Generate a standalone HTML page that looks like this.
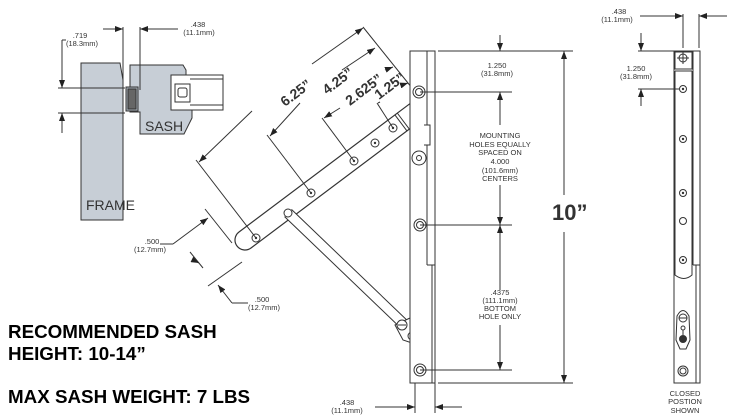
<!DOCTYPE html>
<html><head><meta charset="utf-8"><style>
html,body{margin:0;padding:0;background:#fff;width:750px;height:419px;overflow:hidden}
svg{display:block}
text{font-family:"Liberation Sans",Arial,sans-serif;fill:#333}
</style></head><body>
<svg width="750" height="419" viewBox="0 0 750 419" xmlns="http://www.w3.org/2000/svg">
<defs>
<marker id="a" markerWidth="8" markerHeight="6" refX="8" refY="3" orient="auto" markerUnits="userSpaceOnUse"><path d="M0,0 L8,3 L0,6z" fill="#222"/></marker>
</defs>
<g stroke="#333" stroke-width="1" fill="none">
<!-- cross section -->
<path d="M81,63 L120,63 L123,80 L123,220 L81,220 Z" fill="#c7ced6"/>
<path d="M130,65 L183,65 L186,70 L186,106 L192,106 L192,118 L184,134 L140,134 L140,112 L130,112 Z" fill="#c7ced6"/>
<rect x="126" y="87" width="12" height="24" fill="#aab2ba"/>
<rect x="128" y="89" width="8" height="20" fill="#666"/>
<rect x="171" y="75" width="52" height="35" fill="#fff"/>
<rect x="175" y="84" width="15" height="18" fill="#fff"/>
<rect x="178" y="88" width="9" height="9" rx="2"/>
<line x1="190" y1="79" x2="223" y2="79"/><line x1="190" y1="105" x2="223" y2="105"/>
<!-- dims left -->
<line x1="123" y1="27" x2="123" y2="88"/><line x1="140" y1="27" x2="140" y2="90"/>
<line x1="103" y1="29" x2="123" y2="29" marker-end="url(#a)"/>
<line x1="178" y1="29" x2="140" y2="29" marker-end="url(#a)"/>
<line x1="58" y1="88" x2="125" y2="88"/><line x1="58" y1="113" x2="125" y2="113"/>
<line x1="62" y1="40" x2="62" y2="88" marker-end="url(#a)"/>
<line x1="66" y1="40" x2="62" y2="40"/>
<line x1="62" y1="133" x2="62" y2="113" marker-end="url(#a)"/>
<!-- arm -->
<g transform="translate(245,240) rotate(-36.9)">
<path d="M0,-10 L216,-10 A10,10 0 0 1 216,10 L0,10 A10,10 0 0 1 0,-10Z" fill="#fff" stroke-width="1.2"/>
<line x1="195" y1="-10" x2="195" y2="10"/><line x1="198" y1="-10" x2="198" y2="10"/>
</g>
<!-- support arm -->
<g transform="translate(288,213) rotate(43.8)">
<path d="M0,-5 L175,-5 L175,5 L0,5" fill="#fff"/>
</g>
<path d="M395,325 L410,318 L424,332 L418,345 L403,340 Z" fill="#fff"/>
<circle cx="402" cy="325" r="5" fill="#fff"/><line x1="398" y1="325" x2="406" y2="325"/>
<circle cx="412" cy="336" r="4" fill="#fff"/>
<!-- holes on arm -->
<g fill="#fff">
<circle cx="256" cy="238" r="4"/><circle cx="311" cy="193" r="4"/><circle cx="354" cy="161" r="4"/>
<circle cx="375" cy="143" r="4"/><circle cx="393" cy="128" r="4"/><circle cx="418" cy="110" r="6"/>
<circle cx="288" cy="213" r="4"/>
</g>
<g fill="#333" stroke="none"><circle cx="256" cy="238" r="1.2"/><circle cx="311" cy="193" r="1.2"/><circle cx="354" cy="161" r="1.2"/><circle cx="375" cy="143" r="1.2"/><circle cx="393" cy="128" r="1.2"/><circle cx="418" cy="110" r="1.2"/></g>
<!-- extension / dims on arm -->
<line x1="256" y1="238" x2="196" y2="160"/>
<line x1="311" y1="193" x2="267" y2="135"/>
<line x1="354" y1="161" x2="322" y2="118"/>
<line x1="393" y1="128" x2="377" y2="103"/>
<line x1="363" y1="27" x2="412" y2="88"/>
<line x1="252" y1="111" x2="199" y2="162" marker-end="url(#a)"/>
<line x1="312" y1="64" x2="363" y2="28" marker-end="url(#a)"/>
<line x1="300" y1="103" x2="270" y2="136" marker-end="url(#a)"/>
<line x1="342" y1="70" x2="375" y2="48" marker-end="url(#a)"/>
<line x1="340" y1="108" x2="324" y2="118" marker-end="url(#a)"/>
<line x1="385" y1="70" x2="393" y2="67" marker-end="url(#a)"/>
<line x1="380" y1="102" x2="378" y2="103"/>
<line x1="405" y1="84" x2="408" y2="83" marker-end="url(#a)"/>
<!-- .500 dims -->
<line x1="205" y1="209" x2="232" y2="243"/>
<line x1="190" y1="252" x2="203" y2="268"/>
<line x1="160" y1="244" x2="173" y2="244"/><line x1="173" y1="244" x2="208" y2="218" marker-end="url(#a)"/>
<line x1="197" y1="262" x2="199" y2="263" marker-end="url(#a)"/>
<line x1="208" y1="286" x2="242" y2="262"/>
<line x1="248" y1="303" x2="232" y2="303"/><line x1="232" y1="303" x2="218" y2="285" marker-end="url(#a)"/>
<!-- middle frame -->
<rect x="410" y="51" width="25" height="332" fill="#fff"/>
<line x1="427" y1="51" x2="427" y2="265"/><line x1="427" y1="265" x2="435" y2="265"/>
<line x1="432" y1="265" x2="432" y2="383"/>
<path d="M424,125 L430,125 L430,145 L424,145" fill="#fff"/>
<circle cx="419" cy="158" r="7" fill="#fff"/><circle cx="419" cy="158" r="2.5"/>
<circle cx="419" cy="92" r="6" fill="#fff"/><circle cx="419" cy="92" r="3.5"/>
<circle cx="420" cy="225" r="6" fill="#fff"/><circle cx="420" cy="225" r="3.5"/>
<circle cx="420" cy="370" r="6" fill="#fff"/><circle cx="420" cy="370" r="3.5"/>
<line x1="438" y1="51" x2="573" y2="51"/><line x1="438" y1="383" x2="573" y2="383"/>
<line x1="420" y1="92" x2="512" y2="92"/><line x1="420" y1="225" x2="512" y2="225"/><line x1="420" y1="370" x2="512" y2="370"/>
<line x1="500" y1="35" x2="500" y2="51" marker-end="url(#a)"/>
<line x1="500" y1="125" x2="500" y2="92" marker-end="url(#a)"/>
<line x1="500" y1="185" x2="500" y2="225" marker-end="url(#a)"/>
<line x1="500" y1="290" x2="500" y2="225" marker-end="url(#a)"/>
<line x1="500" y1="325" x2="500" y2="370" marker-end="url(#a)"/>
<line x1="564" y1="195" x2="564" y2="51" marker-end="url(#a)"/>
<line x1="564" y1="232" x2="564" y2="383" marker-end="url(#a)"/>
<line x1="415" y1="383" x2="415" y2="413"/><line x1="435" y1="383" x2="435" y2="413"/>
<line x1="375" y1="407" x2="415" y2="407" marker-end="url(#a)"/>
<line x1="462" y1="407" x2="435" y2="407" marker-end="url(#a)"/>
<!-- right view -->
<rect x="674" y="51" width="26" height="332" fill="#fff"/>
<line x1="693" y1="51" x2="693" y2="265"/><line x1="693" y1="265" x2="700" y2="265"/>
<line x1="696" y1="265" x2="696" y2="383"/>
<rect x="675" y="52" width="17" height="17"/><line x1="675" y1="71" x2="692" y2="71"/>
<circle cx="683" cy="58" r="4"/><line x1="683" y1="52" x2="683" y2="64"/><line x1="677" y1="58" x2="689" y2="58"/>
<path d="M675,71 L675,275 Q684,282 692,275 L692,71"/>
<g fill="#fff"><circle cx="683" cy="89" r="3.5"/><circle cx="683" cy="139" r="3.5"/><circle cx="683" cy="193" r="3.5"/><circle cx="683" cy="221" r="3.5"/><circle cx="683" cy="260" r="3.5"/></g>
<g fill="#333" stroke="none"><circle cx="683" cy="89" r="1.2"/><circle cx="683" cy="139" r="1.2"/><circle cx="683" cy="193" r="1.2"/><circle cx="683" cy="260" r="1.2"/></g>
<path d="M677,316 Q683,305 689,316 L690,340 L686,349 L680,349 L676,340 Z" fill="#fff"/>
<circle cx="683" cy="318" r="4"/><line x1="679" y1="318" x2="687" y2="318"/>
<circle cx="683" cy="328" r="2"/><line x1="683" y1="330" x2="683" y2="335"/>
<circle cx="683" cy="339" r="3.5" fill="#333"/>
<circle cx="683" cy="371" r="5"/><circle cx="683" cy="371" r="3"/>
<line x1="683" y1="14" x2="683" y2="48"/><line x1="699" y1="14" x2="699" y2="48"/>
<line x1="640" y1="16" x2="683" y2="16" marker-end="url(#a)"/>
<line x1="727" y1="16" x2="699" y2="16" marker-end="url(#a)"/>
<line x1="638" y1="51" x2="674" y2="51"/><line x1="638" y1="89" x2="679" y2="89"/>
<line x1="641" y1="33" x2="641" y2="51" marker-end="url(#a)"/>
<line x1="641" y1="106" x2="641" y2="89" marker-end="url(#a)"/>
</g>
<!-- text -->
<g font-size="7.5" text-anchor="middle">
<text x="80" y="38">.719</text><text x="82" y="46">(18.3mm)</text>
<text x="198" y="27">.438</text><text x="199" y="35">(11.1mm)</text>
<text x="152" y="244">.500</text><text x="150" y="252">(12.7mm)</text>
<text x="262" y="302">.500</text><text x="264" y="310">(12.7mm)</text>
<text x="497" y="68">1.250</text><text x="497" y="76">(31.8mm)</text>
<text x="500" y="138">MOUNTING</text><text x="500" y="147">HOLES EQUALLY</text><text x="500" y="155">SPACED ON</text><text x="500" y="164">4.000</text><text x="500" y="173">(101.6mm)</text><text x="500" y="181">CENTERS</text>
<text x="500" y="295">.4375</text><text x="500" y="303">(111.1mm)</text><text x="500" y="311">BOTTOM</text><text x="500" y="319">HOLE ONLY</text>
<text x="347" y="405">.438</text><text x="347" y="413">(11.1mm)</text>
<text x="619" y="14">.438</text><text x="617" y="22">(11.1mm)</text>
<text x="636" y="71">1.250</text><text x="636" y="79">(31.8mm)</text>
<text x="685" y="396">CLOSED</text><text x="685" y="404">POSTION</text><text x="685" y="413">SHOWN</text>
</g>
<text x="86" y="210" font-size="14">FRAME</text>
<text x="145" y="131" font-size="14">SASH</text>
<g font-size="14" font-weight="bold" fill="#333">
<text transform="translate(285,107) rotate(-37)">6.25”</text>
<text transform="translate(327,95) rotate(-37)">4.25”</text>
<text transform="translate(350,106) rotate(-37)">2.625”</text>
<text transform="translate(379,100) rotate(-37)">1.25”</text>
</g>
<text x="552" y="220" font-size="22" font-weight="bold" fill="#111">10”</text>
<g font-size="18.8" font-weight="bold" fill="#000">
<text x="8" y="338" style="fill:#000">RECOMMENDED SASH</text>
<text x="8" y="360" style="fill:#000">HEIGHT: 10-14”</text>
<text x="8" y="403" style="fill:#000">MAX SASH WEIGHT: 7 LBS</text>
</g>
</svg>
</body></html>
